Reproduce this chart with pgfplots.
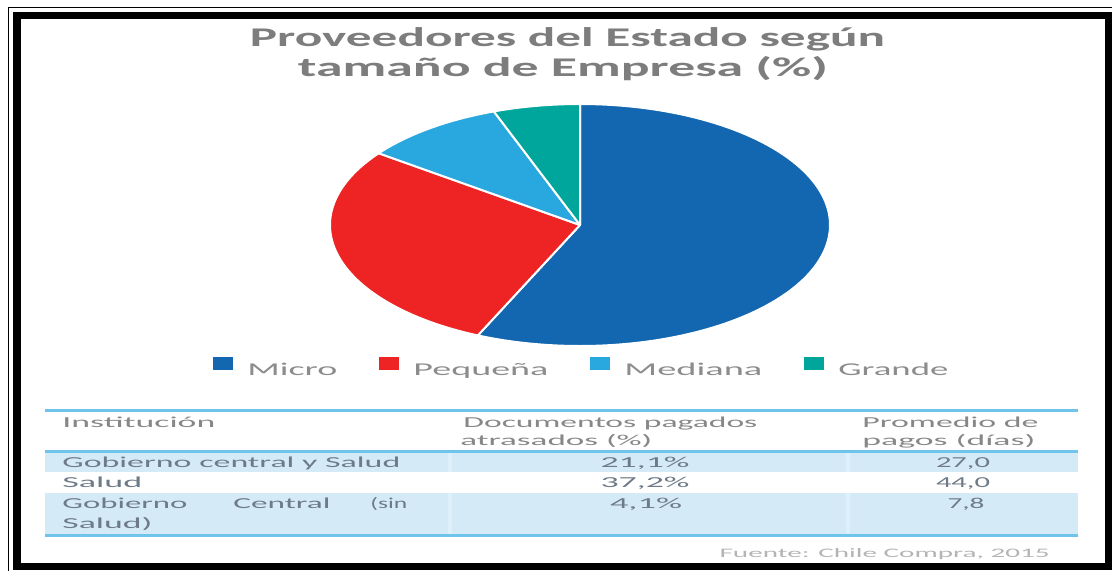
\documentclass[border=0pt]{standalone}
\usepackage{pgfplots}
\pgfplotsset{compat=1.18}
\usepackage{pgfplotstable}
\usepackage{graphicx}
\usepackage{fontspec}
\setmainfont{Carlito}

\definecolor{cMicro}{RGB}{19,102,176}
\definecolor{cPeq}{RGB}{237,35,36}
\definecolor{cMed}{RGB}{41,168,224}
\definecolor{cGra}{RGB}{0,166,156}
\definecolor{titlegray}{RGB}{125,125,125}
\definecolor{leggray}{RGB}{140,140,140}
\definecolor{headgray}{RGB}{135,135,135}
\definecolor{bodygray}{RGB}{110,122,136}
\definecolor{srcgray}{RGB}{180,180,180}
\definecolor{tline}{RGB}{110,196,234}
\definecolor{trow}{RGB}{212,235,247}

\pgfplotstableread{
Tamano Valor
Micro 56.7
Pequena 28.4
Mediana 9.3
Grande 5.6
}\piedata

% text of given width (pt), font size (pt)
\newcommand{\tw}[3]{\resizebox{#1pt}{\height}{\fontsize{#2}{#2}\selectfont #3}}

\begin{document}%
\begin{tikzpicture}
\pgfplotstablegetelem{0}{Valor}\of\piedata\let\vA\pgfplotsretval
\pgfplotstablegetelem{1}{Valor}\of\piedata\let\vB\pgfplotsretval
\pgfplotstablegetelem{2}{Valor}\of\piedata\let\vC\pgfplotsretval
\pgfplotstablegetelem{3}{Valor}\of\piedata\let\vD\pgfplotsretval
\pgfmathsetmacro\aA{90}
\pgfmathsetmacro\aB{\aA-3.6*\vA}
\pgfmathsetmacro\aC{\aB-3.6*\vB}
\pgfmathsetmacro\aD{\aC-3.6*\vC}
\pgfmathsetmacro\aE{\aD-3.6*\vD}
\useasboundingbox (0,0) rectangle (556pt,285pt);
\begin{scope}[x=0.5pt,y=-0.5pt,shift={(0,285pt)}]
% frame
\draw[black, line width=0.5pt] (8,575) -- (8,7) -- (1120,7);
\draw[black, line width=3.75pt] (17,15.5) rectangle (1108.5,566.5);
% title
\node[anchor=base, text=titlegray, inner sep=0] at (567.5,46) {\tw{317.5}{13.5}{\bfseries Proveedores del Estado según}};
\node[anchor=base, text=titlegray, inner sep=0] at (563,76) {\tw{265}{13.5}{\bfseries tamaño de Empresa (\%)}};
% table
\fill[trow] (45,452) rectangle (1078,472);
\fill[trow] (45,493) rectangle (1078,534);
\draw[white, opacity=0.25, line width=2pt] (450,452) -- (450,472) (450,493) -- (450,534) (848,452) -- (848,472) (848,493) -- (848,534);
\draw[tline, line width=1.5pt] (45,410) -- (1078,410);
\draw[tline, line width=1.5pt] (45,451) -- (1078,451);
\draw[tline, line width=1.5pt] (45,535) -- (1078,535);
\begin{scope}[every node/.style={inner sep=0}]
\node[anchor=base west, text=headgray] at (62,427) {\tw{76.5}{7.6}{Institución}};
\node[anchor=base west, text=headgray] at (463,427) {\tw{147}{7.6}{Documentos pagados}};
\node[anchor=base west, text=headgray] at (460,445) {\tw{96}{7.6}{atrasados (\%)}};
\node[anchor=base west, text=headgray] at (862,427) {\tw{88}{7.6}{Promedio de}};
\node[anchor=base west, text=headgray] at (862,445) {\tw{86.5}{7.6}{pagos (días)}};
\node[anchor=base west, text=bodygray] at (62,467) {\tw{169}{7.6}{Gobierno central y Salud}};
\node[anchor=base, text=bodygray] at (645,467) {\tw{44.5}{7.6}{21,1\%}};
\node[anchor=base, text=bodygray] at (963,467) {\tw{27}{7.6}{27,0}};
\node[anchor=base west, text=bodygray] at (62,487) {\tw{40}{7.6}{Salud}};
\node[anchor=base, text=bodygray] at (645,487) {\tw{44.5}{7.6}{37,2\%}};
\node[anchor=base, text=bodygray] at (963,487) {\tw{27}{7.6}{44,0}};
\node[anchor=base west, text=bodygray] at (62,508) {\tw{62.5}{7.6}{Gobierno}};
\node[anchor=base west, text=bodygray] at (233,508) {\tw{48.5}{7.6}{Central}};
\node[anchor=base west, text=bodygray] at (370,508) {\tw{18.5}{7.6}{(sin}};
\node[anchor=base west, text=bodygray] at (62,528) {\tw{45}{7.6}{Salud)}};
\node[anchor=base, text=bodygray] at (646,508) {\tw{36}{7.6}{4,1\%}};
\node[anchor=base, text=bodygray] at (966,508) {\tw{18.5}{7.6}{7,8}};
\node[anchor=base east, text=srcgray] at (1050,557) {\tw{165}{6.5}{Fuente: Chile Compra, 2015}};
\end{scope}
\end{scope}
\begin{axis}[
  at={(290pt,172.5pt)}, anchor=origin,
  width=250pt, height=121pt, scale only axis,
  xmin=-1, xmax=1, ymin=-1, ymax=1,
  hide axis, clip=false,
  legend columns=4,
  legend style={at={(-0.234,-0.0909)}, anchor=west, draw=none, fill=none,
    inner sep=0pt, text=leggray, font=\fontsize{9}{10}\selectfont,
    nodes={inner sep=0pt},
    /tikz/every odd column/.append style={column sep=7pt},
    /tikz/every even column/.append style={column sep=21pt}},
  legend image code/.code={\fill[#1, draw=none] (0pt,0.5pt) rectangle (10pt,7pt);},
]
\addplot[fill=cMicro, draw=white, line width=1pt, line join=round, domain=\aB:\aA, samples=120] ({cos(x)},{sin(x)}) -- (axis cs:0,0) -- cycle;
\addlegendentry{\resizebox{45pt}{\height}{Micro}}
\addplot[fill=cPeq, draw=white, line width=1pt, line join=round, domain=\aC:\aB, samples=80] ({cos(x)},{sin(x)}) -- (axis cs:0,0) -- cycle;
\addlegendentry{\resizebox{67.5pt}{\height}{Pequeña}}
\addplot[fill=cMed, draw=white, line width=1pt, line join=round, domain=\aD:\aC, samples=40] ({cos(x)},{sin(x)}) -- (axis cs:0,0) -- cycle;
\addlegendentry{\resizebox{69pt}{\height}{Mediana}}
\addplot[fill=cGra, draw=white, line width=1pt, line join=round, domain=\aE:\aD, samples=30] ({cos(x)},{sin(x)}) -- (axis cs:0,0) -- cycle;
\addlegendentry{\resizebox{55pt}{\height}{Grande}}
\end{axis}
\end{tikzpicture}%
\end{document}
